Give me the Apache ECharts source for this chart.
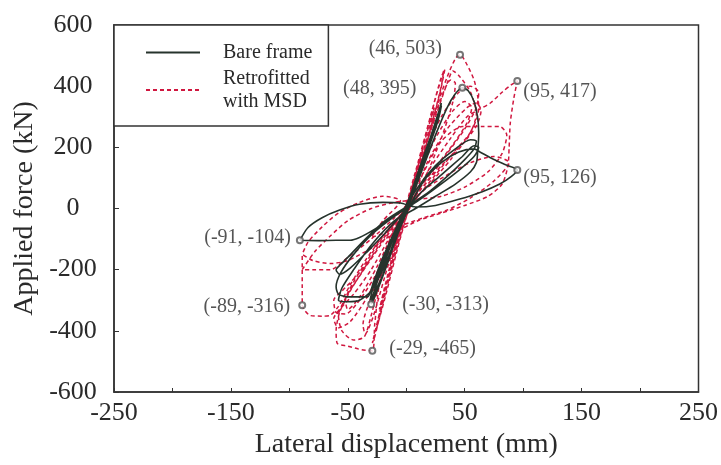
<!DOCTYPE html>
<html>
<head>
<meta charset="utf-8">
<script src="https://cdn.jsdelivr.net/npm/echarts@6/dist/echarts.min.js"></script>
<style>
  html, body { margin: 0; padding: 0; background: #fff; }
  #chart { width: 721px; height: 465px; }
</style>
</head>
<body>
<div id="chart"></div>
<script>
// Hysteresis response, lateral displacement (mm) vs applied force (kN)
const bareFramePath = [
  [0,0],[6,60],[11,120],[8,85],[2,15],[-4,-45],[-10,-115],[-7,-80],[-1,-10],
  [8,95],[18,205],[21,235],[16,175],[6,55],[-6,-65],[-18,-200],[-21,-230],[-16,-170],[-5,-45],
  [8,90],[20,225],[28,320],[30,345],[27,290],[18,185],[6,50],[-6,-70],[-18,-200],[-27,-290],[-30,-313],[-27,-265],[-17,-160],[-5,-35],
  [8,85],[20,215],[29,330],[27,285],[17,175],[5,40],[-8,-90],[-20,-215],[-29,-305],[-26,-250],[-15,-130],[-3,-20],
  [9,95],[21,230],[30,335],[28,300],[19,195],[7,60],[-7,-80],[-19,-210],[-31,-300],[-28,-255],[-17,-140],[-4,-25],
  [10,70],[25,140],[42,195],[55,225],[60,220],[58,195],[50,160],[35,105],[18,50],[0,5],[-18,-40],[-35,-100],[-50,-160],[-58,-190],[-60,-200],[-57,-215],[-48,-195],[-33,-140],[-18,-80],[-4,-20],
  [12,50],[30,110],[48,170],[58,205],[62,200],[58,170],[45,125],[28,75],[10,25],[-8,-20],[-28,-80],[-45,-150],[-56,-210],[-60,-256],[-58,-280],[-50,-289],[-40,-289],[-33,-289],[-28,-240],[-20,-160],[-8,-60],[2,10],
  [12,110],[25,240],[35,330],[42,375],[48,395],[53,385],[58,350],[61,300],[62,245],[61,180],[60,150],[55,120],[42,80],[25,40],[8,0],[-10,-40],[-30,-120],[-45,-200],[-55,-260],[-58,-300],[-50,-305],[-40,-300],[-30,-270],[-20,-200],[-8,-90],[2,0],
  [15,90],[30,150],[45,185],[58,195],[63,185],[75,160],[85,143],[95,126],[90,105],[80,80],[65,55],[45,30],[25,10],[8,5],
  [-5,18],[-20,20],[-40,14],[-57,-5],[-72,-30],[-84,-62],[-91,-104],[-75,-105],[-60,-104],[-48,-104],[-40,-95],[-28,-70],[-12,-30],[0,0]
];

const retrofittedPath = [
  [0,0],[8,110],[14,190],[10,130],[2,20],[-6,-80],[-14,-190],[-10,-130],[-2,-20],
  [10,140],[20,280],[24,330],[19,250],[8,90],[-6,-90],[-18,-260],[-23,-330],[-18,-250],[-6,-70],
  [10,150],[22,320],[30,430],[33,455],[29,380],[18,220],[5,40],[-8,-130],[-20,-310],[-27,-420],[-29,-440],[-24,-360],[-12,-170],[0,0],
  [12,170],[25,360],[32,450],[30,400],[20,250],[8,80],[-6,-110],[-18,-290],[-26,-400],[-22,-330],[-10,-150],[2,20],
  [15,180],[28,340],[38,420],[42,410],[40,350],[30,230],[15,90],[0,-20],[-15,-180],[-28,-350],[-35,-410],[-37,-380],[-31,-300],[-16,-140],[0,0],
  [10,100],[25,230],[40,320],[50,350],[56,330],[52,280],[40,210],[22,120],[5,30],[-10,-70],[-25,-190],[-40,-290],[-50,-330],[-52,-300],[-45,-240],[-30,-150],[-12,-50],[0,0],
  [15,170],[30,300],[45,380],[55,400],[62,380],[60,330],[50,260],[35,180],[18,90],[0,0],[-15,-100],[-30,-200],[-45,-280],[-57,-330],[-62,-360],[-58,-390],[-48,-370],[-35,-300],[-20,-190],[-5,-70],[5,20],
  [18,150],[35,260],[52,330],[60,345],[64,320],[60,270],[48,210],[30,140],[12,60],[-5,-20],[-22,-120],[-40,-210],[-55,-270],[-62,-300],[-60,-340],[-52,-345],[-42,-310],[-28,-230],[-12,-110],[0,-10],
  [12,150],[25,320],[35,430],[42,490],[46,503],[52,470],[58,420],[61,370],[62,330],[60,290],[52,230],[38,160],[20,80],[3,10],[-12,-80],[-22,-220],[-27,-380],[-29,-465],[-38,-462],[-50,-450],[-59,-441],[-60,-400],[-57,-340],[-48,-270],[-35,-190],[-18,-90],[-3,-10],
  [10,130],[25,300],[36,420],[40,450],[46,430],[55,380],[60,310],[55,250],[42,190],[25,110],[8,30],[-8,-60],[-20,-200],[-30,-350],[-36,-420],[-45,-430],[-55,-400],[-58,-350],[-50,-280],[-38,-210],[-22,-120],[-6,-30],
  [15,120],[30,220],[48,268],[65,268],[80,268],[86,240],[82,180],[70,120],[50,70],[30,40],[10,30],[-10,20],[-30,0],[-50,-40],[-65,-90],[-78,-140],[-89,-200],[-78,-200],[-65,-200],[-50,-160],[-30,-100],[-10,-30],[5,30],
  [20,130],[38,230],[52,300],[63,325],[72,345],[82,380],[90,405],[95,417],[92,360],[89,280],[88,200],[87,140],[82,80],[70,40],[50,10],[30,-15],[10,-40],[-10,-80],[-30,-130],[-50,-170],[-65,-180],[-80,-170],[-89,-150],[-89,-200],[-89,-250],[-89,-316],[-82,-350],[-72,-352],[-65,-349],[-58,-320],[-48,-250],[-35,-170],[-18,-80],[0,0],
  [15,60],[35,110],[55,150],[75,170],[88,150],[75,90],[55,35],[35,-5],[15,-30],[0,-50],[-15,-75],[-30,-95],
  [-20,-40],[-5,25],[-20,40],[-40,20],[-58,-15],[-72,-60],[-84,-110],[-89,-150]
];

// Marked extreme points: [displacement, force]
const bareFramePoints = [[48,395],[95,126],[-91,-104],[-30,-313]];
const retrofittedPoints = [[46,503],[95,417],[-89,-316],[-29,-465]];

const xLabelValues = [-250,-150,-50,50,150,250];
const yLabelValues = [-600,-400,-200,0,200,400,600];

const serif = 'Liberation Serif, Times New Roman, serif';
const bareColor = '#26332c';
const retroColor = '#d0173f';

// label placement for each marked point, in the same order as the point arrays
const bareLabelPos = [
  { position: 'left', distance: 42, offset: [0, 1] },
  { position: 'right', distance: 2, offset: [0, 8] },
  { position: 'left', distance: 5, offset: [0, -3] },
  { position: 'right', distance: 27, offset: [0, 1] }
];
const retroLabelPos = [
  { position: 'left', distance: 14, offset: [0, -6] },
  { position: 'right', distance: 2, offset: [0, 11] },
  { position: 'left', distance: 8, offset: [0, 2] },
  { position: 'right', distance: 13, offset: [0, -2] }
];

function pointSeries(points, placements) {
  return {
    type: 'scatter',
    silent: true,
    z: 5,
    symbol: 'emptyCircle',
    symbolSize: 6,
    itemStyle: { color: '#555', borderWidth: 1.2 },
    data: points.map((p, i) => ({
      value: p,
      label: {
        show: true,
        position: placements[i].position,
        distance: placements[i].distance,
        offset: placements[i].offset,
        formatter: '(' + p[0] + ', ' + p[1] + ')',
        fontFamily: serif,
        fontSize: 20,
        color: '#2a2a2a'
      }
    }))
  };
}

const chart = echarts.init(document.getElementById('chart'));
chart.setOption({
  animation: false,
  backgroundColor: '#fff',
  grid: {
    left: 114, right: 22, top: 25, bottom: 73,
    show: true, borderColor: '#333', borderWidth: 1.5, backgroundColor: 'transparent'
  },
  legend: {
    data: ['Bare frame', 'Retrofitted with MSD'],
    orient: 'vertical',
    left: 114, top: 25,
    padding: [16, 16, 13, 31],
    itemGap: 3,
    itemWidth: 54,
    itemHeight: 10,
    borderColor: '#333',
    borderWidth: 1.5,
    backgroundColor: '#fff',
    selectedMode: false,
    itemStyle: { opacity: 0 },
    formatter: name => name.replace(' with', '\nwith'),
    textStyle: {
      fontFamily: serif, fontSize: 20, lineHeight: 23, color: '#2a2a2a',
      padding: [0, 0, 0, 18]
    }
  },
  xAxis: {
    type: 'value',
    min: -250, max: 250, interval: 50,
    name: 'Lateral displacement (mm)',
    nameLocation: 'middle',
    nameGap: 35,
    nameTextStyle: { fontFamily: serif, fontSize: 28, color: '#2a2a2a' },
    axisLine: { onZero: false, lineStyle: { color: '#333', width: 1.5 } },
    axisTick: { inside: true, length: 4, lineStyle: { color: '#333' } },
    splitLine: { show: false },
    axisLabel: {
      margin: 8,
      fontFamily: serif, fontSize: 26, color: '#2a2a2a',
      formatter: v => xLabelValues.includes(v) ? String(v) : ''
    }
  },
  yAxis: {
    type: 'value',
    min: -600, max: 600, interval: 200,
    name: 'Applied force (kN)',
    nameLocation: 'middle',
    nameGap: 74,
    nameTextStyle: { fontFamily: serif, fontSize: 28, color: '#2a2a2a' },
    axisLine: { onZero: false, lineStyle: { color: '#333', width: 1.5 } },
    axisTick: { inside: true, length: 5, lineStyle: { color: '#333' } },
    splitLine: { show: false },
    axisLabel: {
      margin: 41, align: 'center',
      fontFamily: serif, fontSize: 26, color: '#2a2a2a',
      formatter: v => yLabelValues.includes(v) ? String(v) : ''
    }
  },
  series: [
    {
      name: 'Bare frame',
      type: 'line',
      z: 3,
      symbol: 'none',
      smooth: 0.25,
      data: bareFramePath,
      lineStyle: { color: bareColor, width: 1.6 },
      itemStyle: { color: bareColor }
    },
    {
      name: 'Retrofitted with MSD',
      type: 'line',
      z: 2,
      symbol: 'none',
      smooth: 0.25,
      data: retrofittedPath,
      lineStyle: { color: retroColor, width: 1.5, type: [4, 3] },
      itemStyle: { color: retroColor }
    },
    pointSeries(bareFramePoints, bareLabelPos),
    pointSeries(retrofittedPoints, retroLabelPos)
  ]
});
</script>
</body>
</html>
